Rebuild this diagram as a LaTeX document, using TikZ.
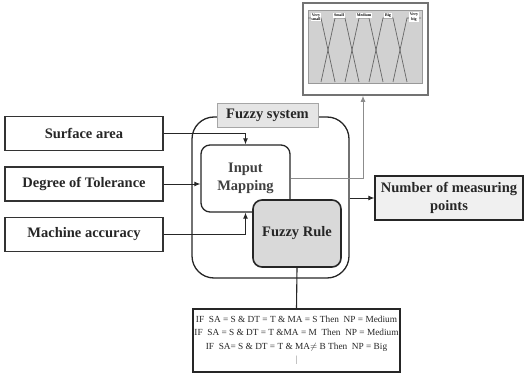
\documentclass[tikz,border=0pt]{standalone}
\usepackage{fontspec}
\setmainfont{Liberation Serif}
\usetikzlibrary{arrows.meta}
\begin{document}
\begin{tikzpicture}[x=1pt,y=-1pt,
  txt/.style={text=black!85},
  inbox/.style={draw=black!80, line width=1.3pt, fill=white, minimum width=158pt, minimum height=34pt,
     inner sep=0pt, txt, font=\bfseries\fontsize{14.5}{17}\selectfont},
  arr/.style={-{Latex[length=6pt,width=5pt]}, line width=0.9pt, draw=black!85},
  garr/.style={-{Latex[length=6pt,width=5pt]}, line width=0.9pt, draw=black!45},
  mf/.style={draw=black!60, line width=0.7pt},
  mflab/.style={fill=white, inner sep=0.8pt, font=\bfseries\fontsize{4}{4.3}\selectfont, align=center}
]
\useasboundingbox (0,0) rectangle (524,374);

% input boxes
\node[inbox] (sa) at (84,133.5) {Surface area};
\node[inbox] (dt) at (84,184) {Degree of Tolerance};
\node[inbox] (ma) at (84,234.5) {Machine accuracy};

% fuzzy system frame
\node[draw=black!85, line width=1.3pt, rounded corners=22pt, minimum width=157pt, minimum height=161pt,
      inner sep=0pt] (fs) at (270.5,197.5) {};
\node[draw=black!35, fill=black!10, minimum width=101pt, minimum height=24pt, inner sep=0pt, txt,
      font=\bfseries\fontsize{14.5}{17}\selectfont] (fsl) at (267.5,115) {Fuzzy system};

% inner blocks
\node[draw=black!85, line width=1.3pt, fill=white, rounded corners=9pt, minimum width=89pt, minimum height=67pt,
      inner sep=0pt, align=center, text=black!75, font=\bfseries\fontsize{14.5}{18}\selectfont] (im) at (245.5,178.5) {Input\\Mapping};
\node[draw=black!85, line width=1.6pt, fill=black!15, rounded corners=9pt, minimum width=88pt, minimum height=67pt,
      inner sep=0pt, txt, font=\bfseries\fontsize{14.5}{17}\selectfont] (fr) at (297,233.5) {Fuzzy Rule};

% output
\node[draw=black!85, line width=1.3pt, fill=black!6, minimum width=148pt, minimum height=44pt, inner sep=0pt,
      align=center, txt, font=\bfseries\fontsize{14.5}{18}\selectfont] (out) at (449,198) {Number of measuring\\points};

% rules
\node[draw=black!85, line width=1.1pt, fill=white, minimum width=207pt, minimum height=63pt, inner sep=0pt,
      align=center, txt, font=\fontsize{9.3}{13.5}\selectfont] (rules) at (296.5,340.5)
  {IF\ \ SA = S \& DT = T \& MA = S Then\ \ NP = Medium\\
   IF\ \ SA = S \& DT = T \&MA = M\ \ Then\ \ NP = Medium\\
   IF\ \ SA= S \& DT = T \& MA$\neq$ B Then\ \ NP = Big\\
   {\color{black!50}|}};

% chart
\node[draw=black!55, line width=1.6pt, fill=white, minimum width=125pt, minimum height=92pt, inner sep=0pt] (chart) at (365.5,49) {};
\fill[black!18] (308,10) rectangle (422,83);
\draw[black!40, line width=0.5pt] (308,10) rectangle (422,83);
\draw[mf] (308,18) -- (321,18) -- (335,82);
\draw[mf] (321,82) -- (335,18) -- (345,18) -- (359,82);
\draw[mf] (345,82) -- (359,18) -- (369,18) -- (383,82);
\draw[mf] (369,82) -- (383,18) -- (393,18) -- (407,82);
\draw[mf] (393,82) -- (407,18) -- (421,18);
\node[mflab] (l1) at (316,17) {Very\\small};
\node[mflab] (l2) at (339,15.5) {Small};
\node[mflab] (l3) at (364,15.5) {Medium};
\node[mflab] (l4) at (388,15.5) {Big};
\node[mflab] (l5) at (414,17) {Very\\big};

% connectors
\draw[arr] (sa.east) -| (im.north);
\draw[arr] (dt.east) -- (im.west |- dt.east);
\draw[arr] (ma.east) -| (im.south);
\draw[garr] (im.east) -| ([xshift=-2.5pt]chart.south);
\draw[arr] (fs.east |- out.west) -- (out.west);
\draw[line width=1.1pt, black!85] (fr.south) -- (rules.north);
\end{tikzpicture}
\end{document}
